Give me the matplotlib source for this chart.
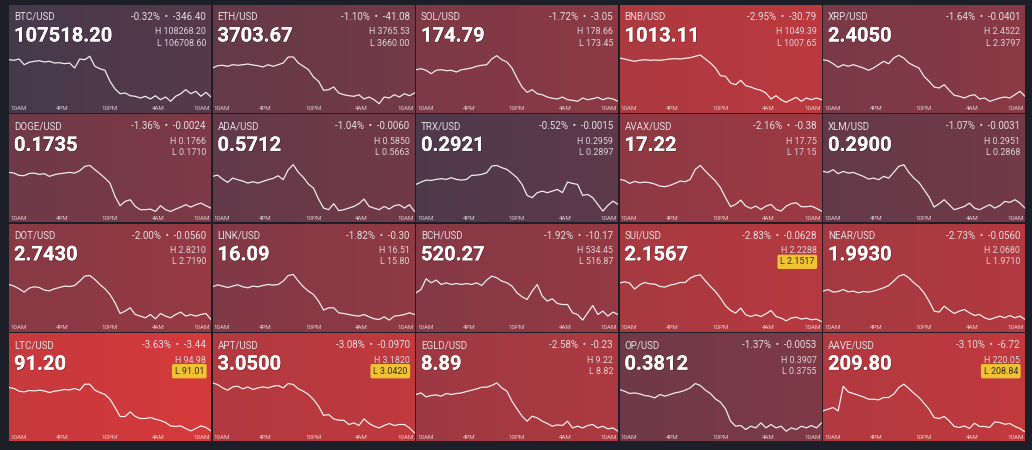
import numpy as np
import matplotlib.pyplot as plt
import matplotlib.patheffects as pe
from matplotlib.colors import to_rgb

# 24h market tiles
SYMBOLS = ['BTC', 'ETH', 'SOL', 'BNB', 'XRP',
           'DOGE', 'ADA', 'TRX', 'AVAX', 'XLM',
           'DOT', 'LINK', 'BCH', 'SUI', 'NEAR',
           'LTC', 'APT', 'EGLD', 'OP', 'AAVE']
PRICES = ['107518.20', '3703.67', '174.79', '1013.11', '2.4050',
          '0.1735', '0.5712', '0.2921', '17.22', '0.2900',
          '2.7430', '16.09', '520.27', '2.1567', '1.9930',
          '91.20', '3.0500', '8.89', '0.3812', '209.80']
CHANGE_PCT = [-0.32, -1.10, -1.72, -2.95, -1.64,
              -1.36, -1.04, -0.52, -2.16, -1.07,
              -2.00, -1.82, -1.92, -2.83, -2.73,
              -3.63, -3.08, -2.58, -1.37, -3.10]
CHANGE_ABS = ['-346.40', '-41.08', '-3.05', '-30.79', '-0.0401',
              '-0.0024', '-0.0060', '-0.0015', '-0.38', '-0.0031',
              '-0.0560', '-0.30', '-10.17', '-0.0628', '-0.0560',
              '-3.44', '-0.0970', '-0.23', '-0.0053', '-6.72']
HIGHS = ['108268.20', '3765.53', '178.66', '1049.39', '2.4522',
         '0.1766', '0.5850', '0.2959', '17.75', '0.2951',
         '2.8210', '16.51', '534.45', '2.2288', '2.0680',
         '94.98', '3.1820', '9.22', '0.3907', '220.05']
LOWS = ['106708.60', '3660.00', '173.45', '1007.65', '2.3797',
        '0.1710', '0.5663', '0.2897', '17.15', '0.2868',
        '2.7190', '15.80', '516.87', '2.1517', '1.9710',
        '91.01', '3.0420', '8.82', '0.3755', '208.84']
AT_LOW = ['SUI', 'LTC', 'APT', 'AAVE']
TIME_LABELS = ['10AM', '4PM', '10PM', '4AM', '10AM']
TIME_HOURS = [0, 6, 12, 18, 24]

# relative price level over the 24h window (sparkline shape)
BTC_LEVEL = [53.3, 52.7, 54, 48.3, 50.7, 51.7, 52.3, 51, 51.7, 50, 50.3, 49.3, 50, 45, 54, 53.3, 56.7, 46.7, 44.3, 42.7,
             31.7, 24, 19.3, 20, 17.3, 16.7, 15, 16.7, 14, 17.3, 13.3, 16, 11.7, 16.7, 19.3, 23.3, 19.3, 21.7, 16.7, 20.7, 16]
ETH_LEVEL = [45, 47.3, 47.7, 46.7, 48.3, 47.7, 48.3, 49, 48, 47.3, 46, 48.3, 46.7, 48.3, 50, 56, 56, 50, 46.7, 43.3,
             36, 31.7, 22.7, 23.3, 26, 20, 18.3, 17.3, 16.7, 18.3, 14, 16, 13.3, 9.3, 16, 15, 18.3, 16, 19.3, 17.3, 20]
SOL_LEVEL = [43.3, 44.3, 42.7, 39.3, 42.7, 43.3, 42.3, 42.7, 41, 43.3, 44, 45, 46.7, 47.7, 48.3, 54, 57.3, 53.3, 51, 45,
             35, 26, 20.7, 23.3, 19.3, 18.3, 16, 14.7, 14, 16, 13.3, 12.7, 11.7, 15, 13.3, 14.3, 15.7, 13.3, 15, 14, 11.7]
BNB_LEVEL = [55, 54, 52.7, 51.7, 52.7, 53.3, 52.7, 53, 52.7, 53.3, 54, 54.3, 54, 54.7, 55.3, 56.7, 58, 54, 50, 45,
             37.3, 36.7, 30, 28.3, 32.7, 27.3, 26, 24, 22.7, 20, 14, 17.3, 13.3, 10.7, 13.3, 15.7, 11.7, 15, 13.3, 15, 13.3]
XRP_LEVEL = [53.3, 52.3, 49.3, 45.7, 48.3, 46.7, 48.3, 46.7, 45, 42.7, 45, 48.3, 51.7, 49.3, 55, 57.7, 55, 50, 47.3, 45,
             36.7, 31.7, 26, 25, 28.3, 22.7, 17.7, 16.7, 15, 17.3, 18.3, 14, 15, 11.7, 13.3, 15, 16, 15, 18.3, 21.7, 16.7]
DOGE_LEVEL = [50, 49.3, 47, 46.7, 49, 49.3, 48, 48.7, 46, 47.7, 48.7, 49.3, 50, 49.3, 51.7, 56, 57, 52.7, 48.7, 44.3,
              39.3, 26, 16.7, 21, 22.7, 16, 12.7, 12.7, 13.3, 11, 16.7, 12.7, 11, 13.3, 15.3, 17.7, 15.3, 17.7, 19.3, 16.7, 14.3]
ADA_LEVEL = [46, 47.3, 43.3, 40, 44.3, 42.7, 41.3, 39.3, 40.7, 39.3, 41, 42.7, 44, 46.7, 42.7, 52.7, 57.7, 50, 45, 38.3,
             34.3, 23.3, 14.3, 12.7, 18.7, 11.7, 12.7, 14.3, 16, 18.7, 23.3, 16, 14.3, 12.7, 16, 13.3, 16.7, 17.7, 14.3, 17.7, 11]
TRX_LEVEL = [38, 40.3, 42.3, 42, 43, 43.7, 43, 44.7, 43, 42.3, 43, 47, 47.3, 48, 49.7, 56.3, 57, 54.7, 53, 49,
             44.7, 38, 27, 24.7, 29.7, 31.3, 29.7, 31.3, 33, 29.7, 40.3, 39, 38, 27, 28, 24.7, 18, 11.3, 17, 21.3, 18]
AVAX_LEVEL = [43, 42, 39, 41, 39.7, 40.3, 39.7, 38.3, 36.3, 35.7, 37, 39, 41.3, 40.7, 43, 53, 57, 51.3, 46.3, 41.3,
              34.7, 24.7, 15.7, 18, 22.3, 16.3, 14, 16.3, 13, 16.3, 18, 13, 11.3, 16.3, 18.7, 19.7, 15.7, 15.7, 16.3, 14, 11.3]
XLM_LEVEL = [51, 50, 52.7, 48.7, 51, 49.3, 50, 48, 46, 43.3, 44.3, 42.7, 46, 44.3, 50, 56, 57.7, 50, 44.3, 40,
             32.7, 25.3, 15.3, 18.7, 22.7, 17.7, 12.7, 14.3, 16, 19.3, 14.3, 12.7, 15.3, 17.7, 14.3, 16.7, 21, 20, 22.7, 19.3, 14.3]
DOT_LEVEL = [47.3, 45.7, 43, 39.7, 43.7, 45, 44.3, 41.7, 41, 43, 44.3, 45.7, 45.3, 46.3, 50.7, 55.7, 56.3, 52.3, 47.3, 43,
             37.3, 29, 18.3, 20.7, 24, 17.3, 15.7, 14, 17.3, 13, 18.3, 15.7, 14, 17.3, 19.7, 15.7, 17.3, 15.7, 17.3, 18.3, 12.3]
LINK_LEVEL = [45, 47, 45.7, 44.3, 45.7, 47, 45, 44, 45.7, 45, 46.3, 47.3, 46.7, 47.3, 50.7, 56.3, 57.3, 50.7, 45, 40.7,
              37.3, 30.7, 21.7, 24, 24, 19, 18.3, 17.3, 16.3, 15.7, 17.3, 15, 13, 12.3, 15, 11.7, 15.7, 16.3, 17.3, 19, 17.3]
BCH_LEVEL = [39, 42.3, 53, 49, 51.7, 47.3, 49, 47.3, 48.3, 47.3, 48.3, 47.3, 49, 46.3, 51.7, 55.7, 54, 50.7, 49, 45.7,
             39, 35, 32.3, 40.7, 47.3, 35.7, 30.7, 33, 28.3, 27.3, 27.3, 19, 17.3, 11.7, 19, 26.3, 17.3, 20.7, 15.7, 19.7, 17.3]
SUI_LEVEL = [48.7, 50, 48.7, 42.7, 47, 49.3, 48, 47.7, 45.3, 44.7, 46.7, 47.7, 49.3, 49.3, 53.7, 56, 57, 51, 45.3, 40.3,
             33.7, 26, 21.3, 18.7, 23.7, 17, 15.3, 17, 15.3, 18, 21.3, 15.3, 13.7, 11, 13.7, 14.7, 12.7, 13.7, 12, 12.7, 10.3]
NEAR_LEVEL = [40.7, 42.3, 39.7, 40.3, 42.3, 40, 40.7, 39, 40.3, 39.7, 40.7, 42.3, 44, 46.3, 50.7, 55.7, 57.3, 54, 49, 45,
              39, 30.7, 20.7, 19.7, 25.7, 21.7, 18.3, 20.7, 22.3, 19, 16.3, 17.3, 14, 12.3, 14, 15.7, 14, 16.3, 14, 15.7, 12.3]
LTC_LEVEL = [53.7, 52.7, 50, 49.3, 50.7, 50.3, 51, 50.3, 48.7, 50, 50.7, 51.7, 51.3, 52.7, 51, 57, 57, 51, 48.7, 46.7,
             42, 33.7, 24.7, 24.7, 29.3, 24.7, 22.7, 22.7, 23.7, 22, 20.7, 18.7, 15.3, 14.7, 15.3, 12.7, 10.3, 12.7, 15.3, 13.7, 10.3]
APT_LEVEL = [58.3, 56.7, 53.3, 51, 54.3, 55, 52.3, 54.3, 51.7, 53.3, 54.3, 53.3, 55, 55.7, 53.3, 57.7, 56.7, 52.3, 50, 46.7,
             41.7, 35, 25.7, 26.7, 22.3, 21, 21, 16.7, 18.3, 15.7, 22.3, 17.7, 15, 13.3, 15.7, 17.7, 15.7, 16.7, 16.7, 13.3, 8.3]
EGLD_LEVEL = [46.7, 48.3, 44.3, 45.7, 46.3, 45, 47.7, 46.7, 47.7, 48.3, 49.7, 51, 52.3, 54, 54, 55.7, 58.3, 53.3, 50, 40,
              32.3, 25, 20, 25, 23.3, 20, 17.7, 15, 16.3, 15.7, 20, 13.3, 15, 13.3, 15.7, 16.7, 13.3, 15, 12.3, 13.3, 10]
OP_LEVEL = [51.7, 50, 47.7, 48.3, 47.3, 45.7, 45, 43.3, 46.7, 45, 46.7, 48.3, 49.3, 51, 53.3, 57.7, 55.7, 51, 47.7, 42.3,
            39, 32.3, 20, 15, 15.7, 11.7, 15, 13.3, 18.3, 13.3, 16.7, 13.3, 15, 10, 13.3, 11.7, 15, 13.3, 15.7, 13.3, 18.3]
AAVE_LEVEL = [30.3, 32, 33.7, 30.3, 55, 49.3, 47.7, 46, 44.3, 42, 42, 41.3, 43.7, 43.7, 47, 53.7, 57, 52.7, 48, 43.7,
              38, 32, 23.7, 22.7, 24.7, 20.3, 14.7, 13.7, 15.3, 12.7, 18, 14.7, 14.7, 13.7, 19.3, 18.7, 17, 17.7, 14.7, 12.7, 9.3]

SERIES = [BTC_LEVEL, ETH_LEVEL, SOL_LEVEL, BNB_LEVEL, XRP_LEVEL,
          DOGE_LEVEL, ADA_LEVEL, TRX_LEVEL, AVAX_LEVEL, XLM_LEVEL,
          DOT_LEVEL, LINK_LEVEL, BCH_LEVEL, SUI_LEVEL, NEAR_LEVEL,
          LTC_LEVEL, APT_LEVEL, EGLD_LEVEL, OP_LEVEL, AAVE_LEVEL]

plt.rcParams['font.family'] = ['Roboto', 'DejaVu Sans']

FIG_W, FIG_H = 1032, 450
TILE_W, TILE_H = 202, 108
SLATE = np.array(to_rgb('#3a3a4e'))
RED = np.array(to_rgb('#d8393b'))
X0, X1 = -0.6, 24.6


def tile_color(frac):
  frac = min(max(frac, 0), 1)
  return SLATE + (RED - SLATE) * frac


def main():
  fig = plt.figure(figsize=(FIG_W / 100, FIG_H / 100), dpi=100, facecolor='#1c1f28')
  shadow = [pe.withSimplePatchShadow(offset=(0.6, -0.6), shadow_rgbFace='black', alpha=0.25), pe.Normal()]

  for k, sym in enumerate(SYMBOLS):
    row, col = divmod(k, 5)
    left = 9 + col * 203.5
    top = 5 + row * 109.4
    ax = fig.add_axes([left / FIG_W, 1 - (top + TILE_H) / FIG_H, TILE_W / FIG_W, TILE_H / FIG_H])
    ax.set_axis_off()

    t = abs(CHANGE_PCT[k]) / 3.7
    c0 = tile_color(0.9 * t)
    c1 = tile_color(0.9 * t + 0.1)
    ramp = np.linspace(0, 1, 64)[None, :, None]
    img = c0 + (c1 - c0) * ramp
    ax.imshow(img, extent=[X0, X1, 0, TILE_H], aspect='auto', zorder=0, interpolation='bilinear')

    levels = SERIES[k]
    hours = np.linspace(X0, X1, len(levels))
    ax.plot(hours, levels, color='white', lw=0.85, alpha=0.95, solid_joinstyle='round', zorder=2)
    ax.set_xlim(X0, X1)
    ax.set_ylim(0, TILE_H)

    def pos(px, py):
      return px / TILE_W, 1 - py / TILE_H

    tr = ax.transAxes
    ax.text(*pos(5, 12), sym + '/USD', transform=tr, ha='left', va='center',
            fontsize=7, color='#e6dde2')
    ax.text(*pos(197, 12), '%.2f%%  \u2022  %s' % (CHANGE_PCT[k], CHANGE_ABS[k]), transform=tr,
            ha='right', va='center', fontsize=7, color='#e6dde2')
    ax.text(*pos(5, 31), PRICES[k], transform=tr, ha='left', va='center',
            fontsize=14.5, fontweight='bold', color='white', path_effects=shadow)
    ax.text(*pos(197, 27), 'H ' + HIGHS[k], transform=tr, ha='right', va='center',
            fontsize=6.4, color='#ddd3d8')
    if sym in AT_LOW:
      ax.text(*pos(195, 38), 'L ' + LOWS[k], transform=tr, ha='right', va='center',
              fontsize=6.4, color='#3a2c12',
              bbox=dict(boxstyle='round,pad=0.3,rounding_size=0.2', fc='#f1c232', ec='none'))
    else:
      ax.text(*pos(197, 38), 'L ' + LOWS[k], transform=tr, ha='right', va='center',
              fontsize=6.4, color='#ddd3d8')

    xtr = ax.get_xaxis_transform()
    ly = 1 - 104 / TILE_H
    for j, (lab, hr) in enumerate(zip(TIME_LABELS, TIME_HOURS)):
      if j == 0:
        ax.text(1 / TILE_W, ly, lab, transform=tr, ha='left', va='center', fontsize=4.4,
                color='white', alpha=0.75)
      elif j == len(TIME_LABELS) - 1:
        ax.text(1 - 1 / TILE_W, ly, lab, transform=tr, ha='right', va='center', fontsize=4.4,
                color='white', alpha=0.75)
      else:
        ax.text(hr, ly, lab, transform=xtr, ha='center', va='center', fontsize=4.4,
                color='white', alpha=0.75)

  fig.savefig('out.png', dpi=100, facecolor=fig.get_facecolor())


if __name__ == '__main__':
  main()
